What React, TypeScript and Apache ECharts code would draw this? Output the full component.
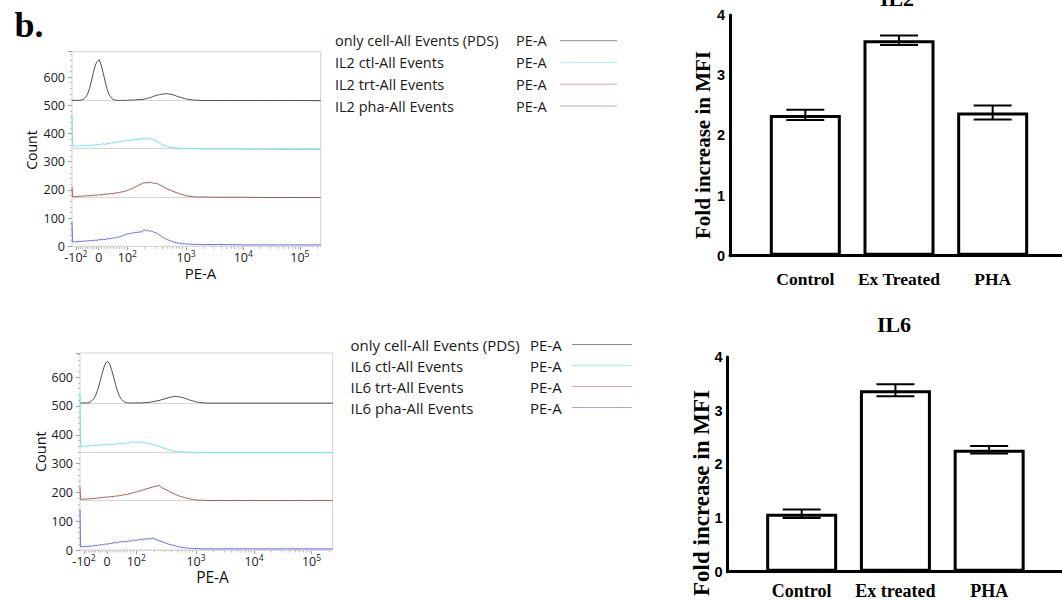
import React, { useEffect, useRef } from "react";
import * as echarts from "echarts";

// ---------- histogram data (channel bins, counts incl. overlay offset) ----------
const CH = [
  0, 2, 8, 16, 24, 32, 40, 48, 56, 64,
  72, 80, 88, 96, 104, 112, 120, 128, 136, 144,
  152, 160, 168, 176, 184, 192, 200, 208, 216, 224,
  232, 240, 248, 256, 264, 272, 280, 288, 296, 304,
  312, 320, 328, 336, 344, 352, 360, 368, 376, 384,
  392, 400, 408, 416, 424, 432, 440, 448, 456, 464,
  472, 480, 496, 512, 544, 576, 640, 704, 768, 832,
  896, 960, 1024,
];

const IL2_ONLY = [
  518, 517, 517, 518, 517, 518, 519, 522, 528, 540,
  559, 586, 616, 643, 655, 662, 643, 616, 586, 559,
  540, 528, 522, 519, 518, 517, 517, 518, 518, 517,
  518, 519, 518, 519, 519, 520, 521, 520, 522, 523,
  525, 527, 529, 532, 534, 536, 538, 539, 540, 541,
  541, 540, 539, 537, 535, 532, 530, 528, 526, 524,
  522, 521, 519, 518, 517, 517, 517, 517, 517, 517,
  517, 517, 516,
];
const IL2_CTL = [
  464, 356, 355, 357, 354, 356, 357, 355, 358, 357,
  359, 357, 360, 359, 361, 360, 362, 364, 361, 365,
  363, 366, 368, 367, 370, 369, 372, 371, 374, 373,
  376, 375, 378, 377, 380, 378, 382, 381, 384, 380,
  382, 383, 380, 378, 374, 370, 366, 362, 359, 356,
  354, 352, 351, 350, 349, 348, 348, 347, 347, 347,
  347, 346, 346, 346, 345, 345, 345, 344, 344, 344,
  343, 343, 343,
];
const IL2_TRT = [
  210, 176, 175, 177, 176, 178, 177, 179, 178, 180,
  179, 181, 180, 182, 181, 183, 182, 184, 185, 184,
  186, 187, 186, 189, 190, 189, 192, 193, 195, 197,
  199, 202, 205, 208, 212, 215, 219, 222, 226, 224,
  228, 225, 227, 223, 224, 222, 218, 215, 211, 207,
  203, 201, 198, 195, 192, 190, 187, 185, 183, 181,
  179, 178, 176, 175, 175, 174, 174, 174, 173, 173,
  173, 173, 173,
];
const IL2_PHA = [
  86, 16, 15, 17, 16, 18, 17, 19, 18, 20,
  19, 21, 20, 22, 21, 24, 23, 25, 24, 27,
  26, 28, 30, 29, 33, 32, 35, 37, 40, 43,
  45, 44, 47, 48, 50, 49, 52, 50, 60, 54,
  57, 53, 54, 50, 49, 45, 40, 35, 30, 27,
  24, 21, 19, 16, 14, 12, 11, 10, 9, 9,
  8, 8, 7, 7, 6, 6, 6, 5, 5, 5,
  5, 5, 5,
];

const IL6_ONLY = [
  511, 510, 510, 511, 510, 511, 513, 518, 525, 538,
  557, 581, 607, 632, 649, 654, 646, 626, 601, 575,
  552, 534, 523, 516, 513, 511, 510, 511, 510, 511,
  511, 510, 511, 511, 512, 512, 513, 514, 515, 516,
  518, 519, 521, 523, 525, 527, 529, 531, 532, 533,
  533, 532, 531, 529, 527, 525, 522, 520, 518, 516,
  514, 513, 511, 510, 510, 510, 510, 510, 510, 510,
  510, 510, 510,
];
const IL6_CTL = [
  539, 360, 359, 361, 360, 362, 361, 363, 362, 364,
  363, 365, 364, 366, 365, 367, 366, 368, 367, 369,
  368, 370, 369, 371, 372, 370, 373, 375, 377, 374,
  376, 375, 374, 372, 372, 370, 368, 368, 366, 364,
  362, 360, 357, 355, 352, 350, 348, 346, 344, 343,
  342, 342, 341, 341, 340, 340, 340, 339, 339, 339,
  339, 339, 338, 338, 338, 338, 338, 338, 338, 338,
  338, 338, 338,
];
const IL6_TRT = [
  220, 176, 176, 177, 176, 178, 177, 179, 178, 180,
  180, 182, 181, 183, 184, 183, 185, 186, 185, 188,
  187, 189, 190, 191, 193, 192, 195, 197, 199, 201,
  203, 205, 206, 209, 211, 213, 215, 217, 219, 221,
  222, 224, 219, 214, 211, 208, 204, 200, 197, 194,
  191, 188, 186, 184, 182, 180, 178, 177, 176, 175,
  174, 173, 173, 172, 172, 172, 172, 172, 172, 172,
  172, 172, 172,
];
const IL6_PHA = [
  139, 11, 12, 11, 13, 12, 14, 13, 15, 16,
  15, 20, 17, 19, 21, 20, 23, 22, 25, 27,
  24, 28, 30, 27, 31, 29, 32, 31, 35, 33,
  34, 36, 38, 35, 39, 37, 41, 38, 42, 38,
  35, 33, 30, 28, 25, 23, 20, 18, 17, 15,
  13, 11, 10, 9, 8, 7, 6, 6, 5, 5,
  5, 5, 4, 4, 4, 4, 4, 4, 4, 4,
  4, 4, 4,
];

const IL2_BASE = [517, 346, 175, 0];
const IL6_BASE = [510, 338, 172, 0];

const IL2_NAMES = ["only cell-All Events (PDS)", "IL2 ctl-All Events", "IL2 trt-All Events", "IL2 pha-All Events"];
const IL6_NAMES = ["only cell-All Events (PDS)", "IL6 ctl-All Events", "IL6 trt-All Events", "IL6 pha-All Events"];
const PARAM = "PE-A";

// x tick label channels and labels (biexponential display)
const HIST_TICK_CH = [16, 110, 228, 470, 705, 938];
const HIST_TICK_BASE = ["-10", "0", "10", "10", "10", "10"];
const HIST_TICK_SUP = ["2", "", "2", "3", "4", "5"];

// ---------- bar data ----------
const IL2_CATS = ["Control", "Ex Treated", "PHA"];
const IL2_MEAN = [2.34, 3.58, 2.38];
const IL2_ERR = [0.085, 0.08, 0.115];
const IL6_CATS = ["Control", "Ex treated", "PHA"];
const IL6_MEAN = [1.08, 3.38, 2.27];
const IL6_ERR = [0.08, 0.11, 0.07];

// ---------- styles ----------
const SANS = "'Open Sans', 'Noto Sans', sans-serif";
const SERIF = "'Liberation Serif', 'Times New Roman', serif";
const ARIAL = "'Liberation Sans', Arial, sans-serif";
const TRACE_COLORS = ["#505050", "#70e2e8", "#a65a56", "#6b6bf0"];
const LEGEND_COLORS = ["#8c8c8c", "#a8eef2", "#d6aaaa", "#a4a4f6"];

const MINOR_CH: number[] = (() => {
  const out: number[] = [];
  for (let k = 1; k < 10; k++) out.push(HIST_TICK_CH[0] + ((HIST_TICK_CH[1] - HIST_TICK_CH[0]) * k) / 10);
  for (let k = 1; k < 10; k++) out.push(HIST_TICK_CH[1] + ((HIST_TICK_CH[2] - HIST_TICK_CH[1]) * k) / 10);
  const dec = HIST_TICK_CH.slice(2);
  const span = (dec[dec.length - 1] - dec[0]) / (dec.length - 1);
  dec.forEach((d) => {
    for (let m = 2; m < 10; m++) {
      const c = d + span * Math.log10(m);
      if (c <= 1024) out.push(c);
    }
  });
  return out;
})();

function histXAxes(gridIndex: number) {
  return [
    {
      type: "value",
      gridIndex,
      position: "bottom",
      offset: 0,
      min: 0,
      max: 1024,
      axisLine: { show: false },
      splitLine: { show: false },
      axisTick: { show: true, customValues: HIST_TICK_CH, length: 4, lineStyle: { color: "#a0a0a0", width: 1 } },
      axisLabel: {
        show: true,
        customValues: HIST_TICK_CH,
        margin: 3,
        formatter: (v: number) => {
          const i = HIST_TICK_CH.indexOf(v);
          if (i < 0) return "";
          return HIST_TICK_SUP[i] ? `{b|${HIST_TICK_BASE[i]}}{s|${HIST_TICK_SUP[i]}}` : `{b|${HIST_TICK_BASE[i]}}`;
        },
        rich: {
          b: { fontFamily: SANS, fontSize: 12.5, color: "#1a1a1a", lineHeight: 16 },
          s: { fontFamily: SANS, fontSize: 8.5, color: "#1a1a1a", lineHeight: 6, verticalAlign: "top" },
        },
      },
    },
    {
      type: "value",
      gridIndex,
      position: "bottom",
      offset: 0,
      min: 0,
      max: 1024,
      axisLine: { show: false },
      splitLine: { show: false },
      axisLabel: { show: false },
      axisTick: { show: true, customValues: MINOR_CH, length: 2.5, lineStyle: { color: "#b8b8b8", width: 1 } },
    },
  ];
}

function histYAxis(gridIndex: number, max: number) {
  return {
    type: "value",
    gridIndex,
    position: "left",
    min: 0,
    max,
    interval: 100,
    axisLine: { show: false },
    splitLine: { show: false },
    axisTick: { show: true, length: 4, lineStyle: { color: "#a0a0a0" } },
    minorTick: { show: true, splitNumber: 5, length: 2, lineStyle: { color: "#c0c0c0" } },
    axisLabel: { fontFamily: SANS, fontSize: 12.5, color: "#1a1a1a", margin: 7, showMaxLabel: false },
  };
}

function histSeries(xi: number, yi: number, sets: number[][], names: string[], bases: number[]) {
  return sets.map((vals, k) => ({
    type: "line",
    name: names[k],
    xAxisIndex: xi,
    yAxisIndex: yi,
    data: CH.map((c, i) => [c, vals[i]]),
    showSymbol: false,
    symbol: "none",
    lineStyle: { color: TRACE_COLORS[k], width: 1 },
    z: 3,
    markLine: {
      silent: true,
      symbol: "none",
      label: { show: false },
      lineStyle: { color: "#d6d6d6", width: 1, type: "solid" },
      data: [{ yAxis: bases[k] }],
      z: 1,
    },
  }));
}

function barXAxis(gridIndex: number, min: number, max: number, cats: string[], fontSize: number, margin: number) {
  return {
    type: "value",
    gridIndex,
    min,
    max,
    axisLine: { show: true, onZero: false, lineStyle: { color: "#000", width: 3 } },
    axisTick: { show: false },
    splitLine: { show: false },
    axisLabel: {
      customValues: [1, 2, 3],
      formatter: (v: number) => cats[Math.round(v) - 1] || "",
      fontFamily: SERIF,
      fontWeight: "bold",
      fontSize,
      lineHeight: fontSize,
      color: "#000",
      margin,
    },
  };
}

function barYAxis(gridIndex: number) {
  return {
    type: "value",
    gridIndex,
    min: 0,
    max: 4,
    interval: 1,
    axisLine: { show: true, lineStyle: { color: "#000", width: 3 } },
    axisTick: { show: false },
    splitLine: { show: false },
    axisLabel: { fontFamily: ARIAL, fontWeight: "bold", fontSize: 14.5, color: "#000", margin: 5 },
  };
}

function barSeries(xi: number, yi: number, means: number[], errs: number[]) {
  return [
    {
      type: "bar",
      xAxisIndex: xi,
      yAxisIndex: yi,
      data: means.map((m, i) => [i + 1, m]),
      barWidth: 71,
      itemStyle: { color: "#fff", borderColor: "#000", borderWidth: 3 },
      z: 2,
    },
    {
      type: "custom",
      xAxisIndex: xi,
      yAxisIndex: yi,
      data: means.map((m, i) => [i + 1, m, errs[i]]),
      encode: { x: 0, y: 1 },
      z: 3,
      renderItem: (params: any, api: any) => {
        const x = api.value(0);
        const m = api.value(1);
        const e = api.value(2);
        const pt = api.coord([x, m + e]);
        const pb = api.coord([x, m - e]);
        const hw = 19;
        const style = { stroke: "#000", lineWidth: 2 };
        return {
          type: "group",
          children: [
            { type: "line", shape: { x1: pt[0], y1: pt[1], x2: pb[0], y2: pb[1] }, style },
            { type: "line", shape: { x1: pt[0] - hw, y1: pt[1], x2: pt[0] + hw, y2: pt[1] }, style },
            { type: "line", shape: { x1: pb[0] - hw, y1: pb[1], x2: pb[0] + hw, y2: pb[1] }, style },
          ],
        };
      },
    },
  ];
}

function legendGraphics(names: string[], tx: number, px: number, l1: number, l2: number, ys: number[], fontSize: number) {
  const els: any[] = [];
  names.forEach((n, i) => {
    els.push({ type: "text", x: tx, y: ys[i], style: { text: n, fontFamily: SANS, fontSize, fill: "#1a1a1a", align: "left", verticalAlign: "middle" } });
    els.push({ type: "text", x: px, y: ys[i], style: { text: PARAM, fontFamily: SANS, fontSize, fill: "#1a1a1a", align: "left", verticalAlign: "middle" } });
    els.push({ type: "line", shape: { x1: l1, y1: ys[i], x2: l2, y2: ys[i] }, style: { stroke: LEGEND_COLORS[i], lineWidth: 1 } });
  });
  return els;
}

function textEl(text: string, x: number, y: number, font: any, rotate = 0) {
  return {
    type: "text",
    x,
    y,
    rotation: rotate,
    style: { text, align: "center", verticalAlign: "middle", fill: "#000", ...font },
  };
}

const option: any = {
  animation: false,
  backgroundColor: "#fff",
  grid: [
    { left: 72, top: 51.7, width: 248.7, height: 194.6, show: true, borderColor: "#d2d2d2", borderWidth: 1, backgroundColor: "transparent", outerBoundsMode: "none", containLabel: false },
    { left: 80, top: 353, width: 252.7, height: 197, show: true, borderColor: "#d2d2d2", borderWidth: 1, backgroundColor: "transparent", outerBoundsMode: "none", containLabel: false },
    { left: 730, top: 15, width: 332, height: 240.7, outerBoundsMode: "none", containLabel: false },
    { left: 727.7, top: 357, width: 334.3, height: 214.7, outerBoundsMode: "none", containLabel: false },
  ],
  xAxis: [
    ...histXAxes(0),
    ...histXAxes(1),
    barXAxis(2, 0.196, 3.74, IL2_CATS, 17.5, 15),
    barXAxis(3, 0.211, 3.777, IL6_CATS, 18, 10.5),
  ],
  yAxis: [histYAxis(0, 690), histYAxis(1, 684), barYAxis(2), barYAxis(3)],
  series: [
    ...histSeries(0, 0, [IL2_ONLY, IL2_CTL, IL2_TRT, IL2_PHA], IL2_NAMES, IL2_BASE),
    ...histSeries(2, 1, [IL6_ONLY, IL6_CTL, IL6_TRT, IL6_PHA], IL6_NAMES, IL6_BASE),
    ...barSeries(4, 2, IL2_MEAN, IL2_ERR),
    ...barSeries(5, 3, IL6_MEAN, IL6_ERR),
  ],
  graphic: {
    elements: [
      textEl("b.", 29, 25, { fontFamily: SERIF, fontWeight: "bold", fontSize: 36 }),
      textEl("Count", 31.7, 150, { fontFamily: SANS, fontSize: 14, fill: "#111" }, Math.PI / 2),
      textEl("PE-A", 200.5, 273.3, { fontFamily: SANS, fontSize: 15, fill: "#111" }),
      textEl("Count", 40.5, 451.7, { fontFamily: SANS, fontSize: 14.5, fill: "#111" }, Math.PI / 2),
      textEl("PE-A", 212.5, 576.5, { fontFamily: SANS, fontSize: 15.5, fill: "#111" }),
      ...legendGraphics(IL2_NAMES, 335, 516, 560, 617, [40.7, 62.7, 84.2, 106], 14.5),
      ...legendGraphics(IL6_NAMES, 350.5, 530, 572, 632, [344.5, 365.5, 386.5, 407.5], 15),
      textEl("IL2", 897, -1.5, { fontFamily: SERIF, fontWeight: "bold", fontSize: 22 }),
      textEl("IL6", 894, 324, { fontFamily: SERIF, fontWeight: "bold", fontSize: 22 }),
      textEl("Fold increase in MFI", 703, 145, { fontFamily: SERIF, fontWeight: "bold", fontSize: 21 }, Math.PI / 2),
      textEl("Fold increase in MFI", 701, 493, { fontFamily: SERIF, fontWeight: "bold", fontSize: 23 }, Math.PI / 2),
    ],
  },
};

export default function App() {
  const ref = useRef<HTMLDivElement>(null);
  useEffect(() => {
    if (!ref.current) return;
    const chart = echarts.init(ref.current, undefined, { renderer: "svg", width: 1062, height: 600 });
    chart.setOption(option);
    return () => chart.dispose();
  }, []);
  return (
    <div
      ref={ref}
      style={{ position: "fixed", left: 0, top: 0, width: 1062, height: 600, background: "#fff" }}
    />
  );
}
